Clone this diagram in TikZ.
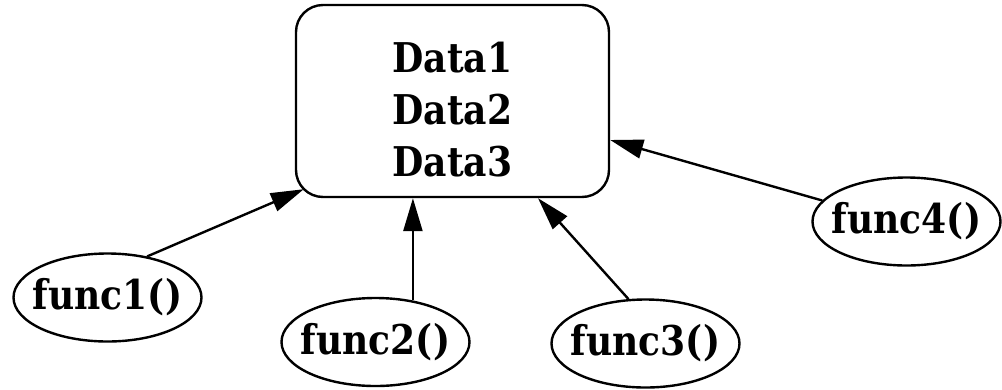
\documentclass[tikz,border=0pt]{standalone}
\usepackage{fontspec}
\setmainfont{DejaVu Serif}[FakeStretch=0.88]
\usetikzlibrary{arrows.meta,shapes.geometric,calc}
% label of zero width, so the ellipse keeps its given size
\newcommand\funclabel[1]{\makebox[0pt]{#1}}
\begin{document}
\begin{tikzpicture}[x=1pt,y=-1pt,
  every node/.style={font=\fontsize{41}{52}\selectfont\bfseries},
  func/.style={draw, ellipse, line width=2.4pt, minimum width=188pt,
    minimum height=88pt, inner sep=0pt},
  store/.style={draw, rounded corners=27pt, line width=2.4pt,
    minimum width=313pt, minimum height=192pt, inner sep=0pt},
  link/.style={line width=2.4pt, -{Triangle[length=33pt,width=19pt]}}]
\fill[white] (0,0) rectangle (1002,389);
\useasboundingbox (0,0) rectangle (1002,389);

% shared data store
\node[store] (box) at (452.5,101) {};
\node[align=center, inner sep=0pt] (boxtxt) at (452.5,110) {Data1\\Data2\\Data3};

% functions using it
\node[func] (f1) at (107.5,297.5) {\funclabel{func1()}};
\node[func] (f2) at (375.5,342) {\funclabel{func2()}};
\node[func] (f3) at (645.5,343.5) {\funclabel{func3()}};
\node[func] (f4) at (906.5,221.5) {\funclabel{func4()}};

% accesses
\draw[link] (f1.46) -- ($(box.south west)+(9,-9)$);
\draw[link] (f2.48) -- (f2.48 |- box.south);
\draw[link] (f3.111) -- ($(box.south)+(85.5,0)$);
\draw[link] (f4.166) -- ($(box.east)+(0,39)$);
\end{tikzpicture}
\end{document}
